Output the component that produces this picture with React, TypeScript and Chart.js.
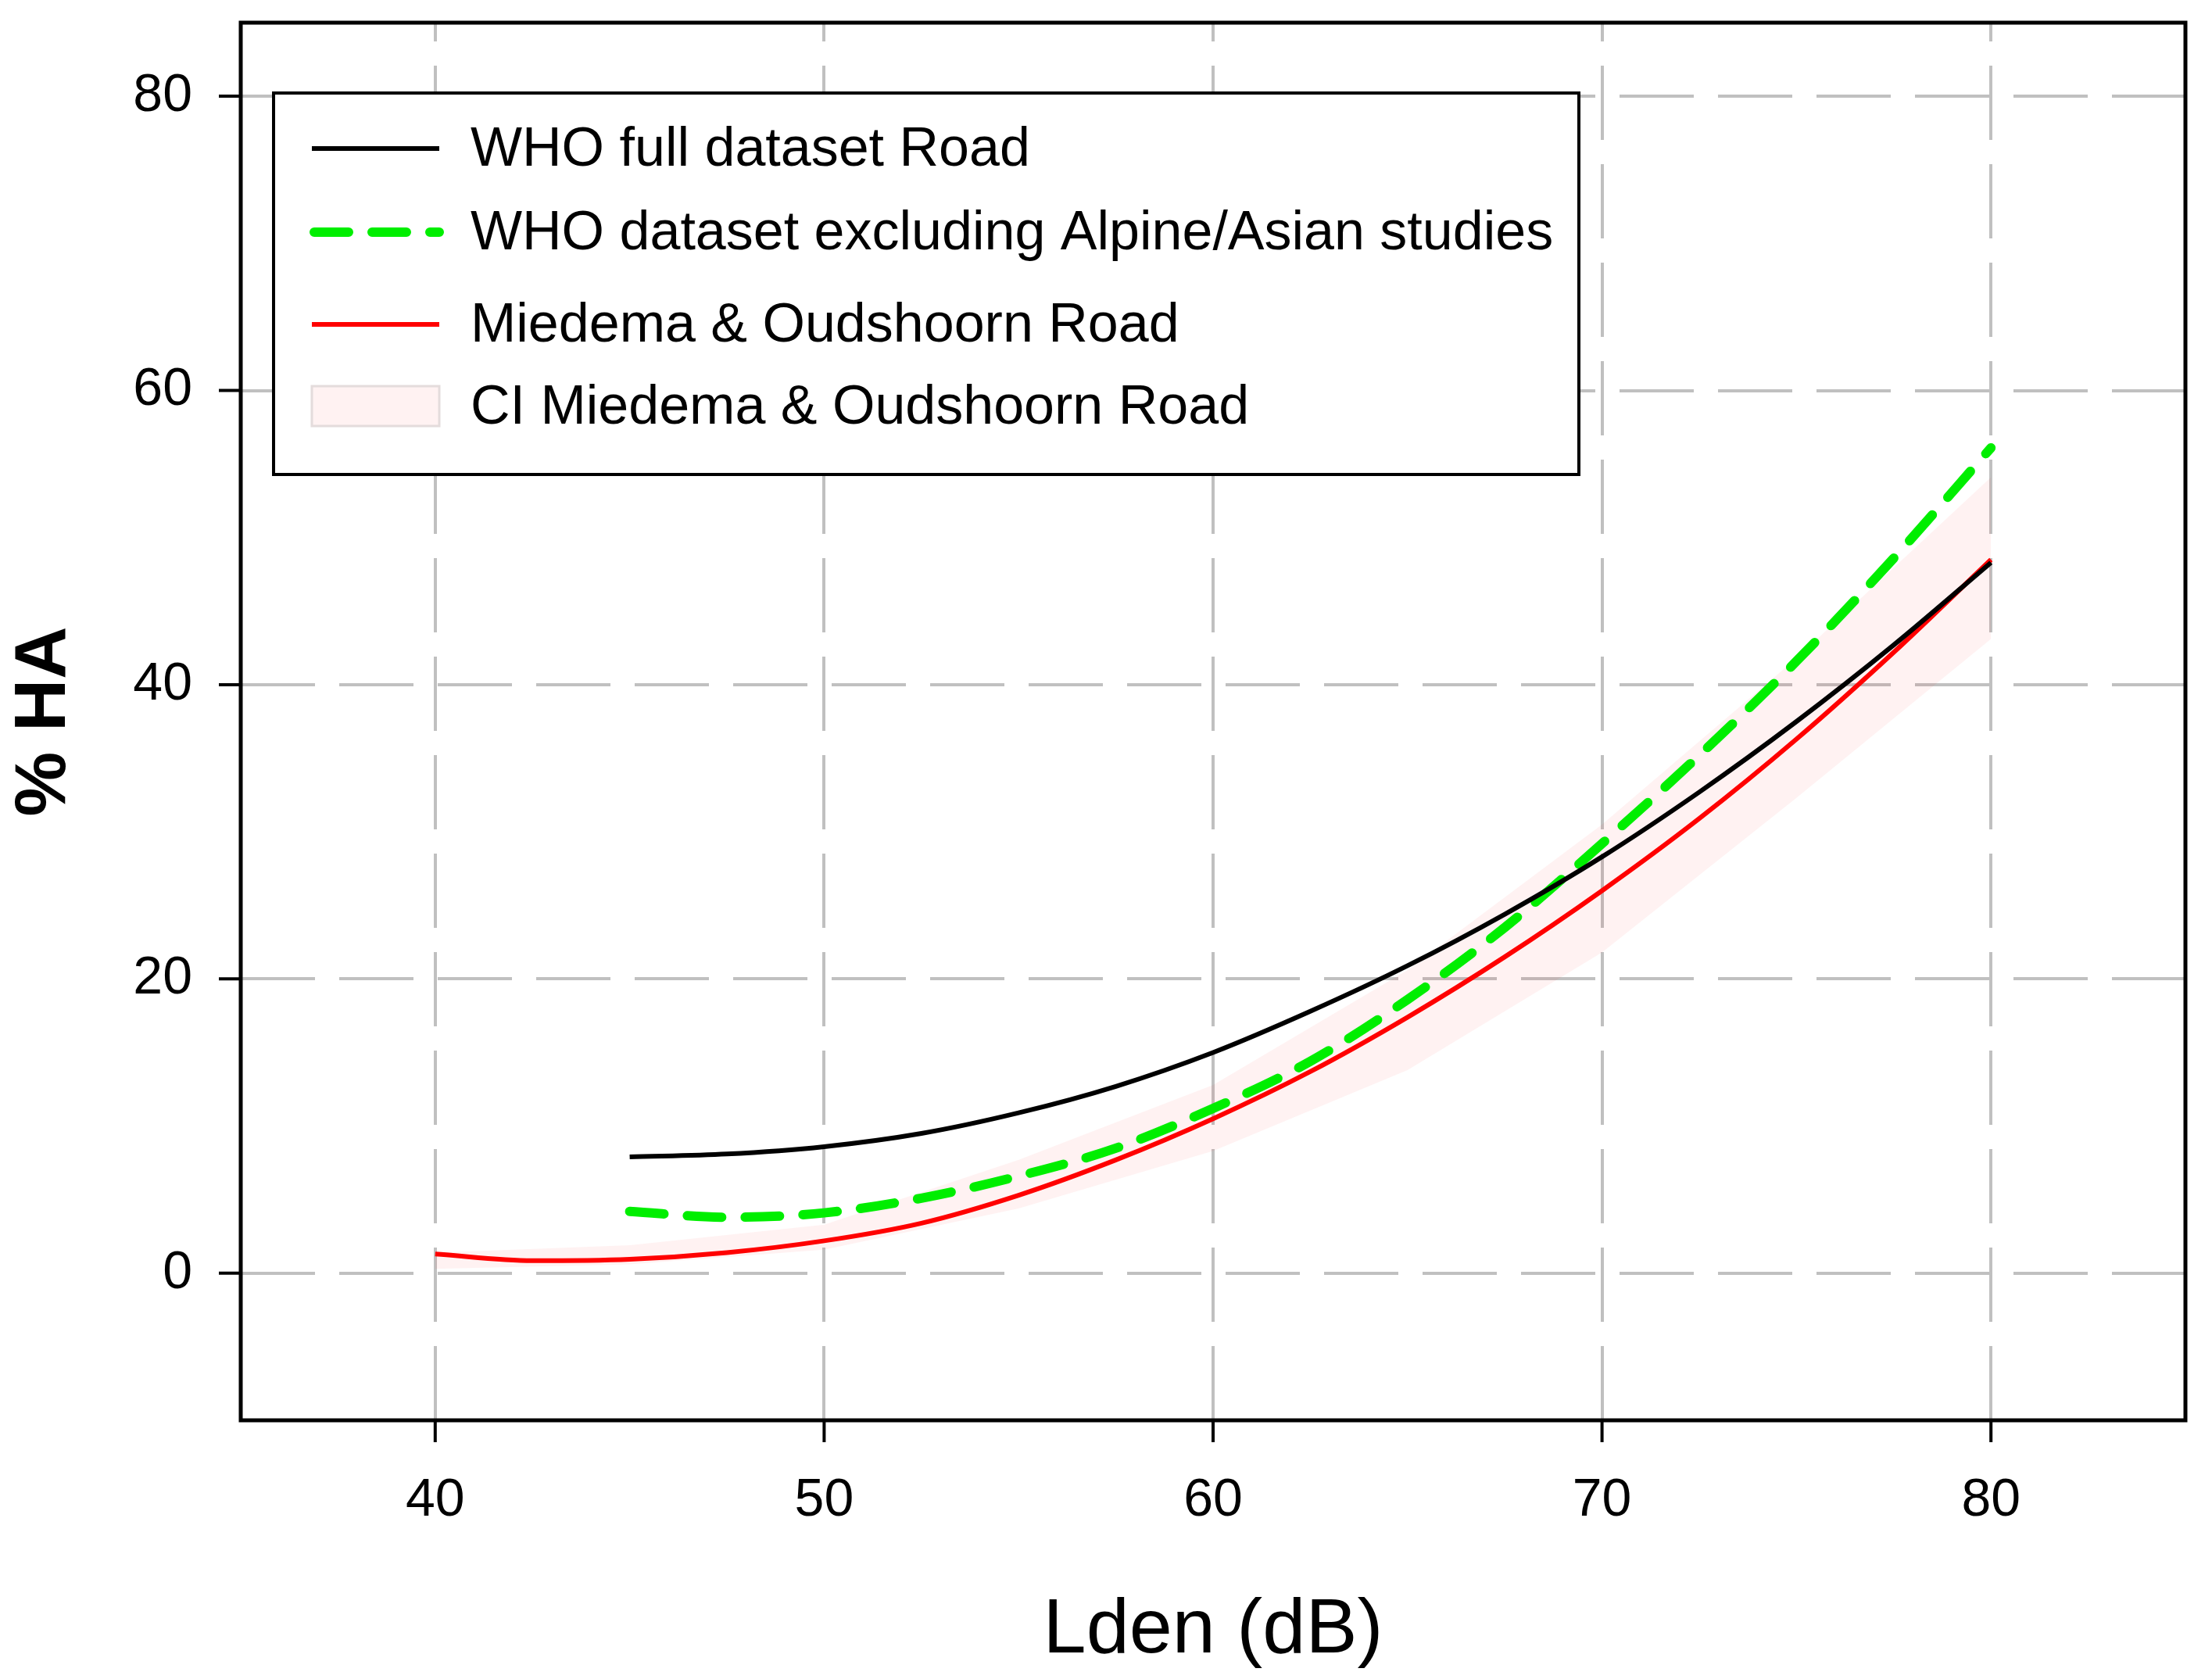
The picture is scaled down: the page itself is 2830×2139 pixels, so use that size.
import React, { useEffect, useRef } from 'react';
import { Chart, registerables } from 'chart.js';

Chart.register(...registerables);

const ldenMiedema = [40, 42.5, 45, 47.5, 50, 52.5, 55, 57.5, 60, 62.5, 65, 67.5, 70, 72.5, 75, 77.5, 80];
const ldenWho = [45, 47.5, 50, 52.5, 55, 57.5, 60, 62.5, 65, 67.5, 70, 72.5, 75, 77.5, 80];
const ldenCi = [40, 45, 50, 55, 60, 65, 70, 75, 80];

// % highly annoyed
const whoFullRoad = [7.9, 8.1, 8.6, 9.5, 10.9, 12.7, 15.0, 17.8, 20.9, 24.4, 28.3, 32.7, 37.5, 42.7, 48.3];
const whoExclAlpineAsian = [4.2, 3.8, 4.1, 5.1, 6.6, 8.5, 11.2, 14.4, 18.6, 23.5, 29.2, 35.2, 41.6, 48.6, 56.1];
const miedemaRoad = [1.3, 0.85, 0.95, 1.4, 2.2, 3.4, 5.3, 7.7, 10.5, 13.7, 17.4, 21.5, 26.0, 30.9, 36.3, 42.2, 48.5];
const ciUpper = [1.4, 1.9, 3.3, 7.7, 12.8, 20.6, 30.5, 41.8, 54.1];
const ciLower = [0.3, 0.6, 1.6, 4.4, 8.3, 13.8, 21.8, 32.3, 43.1];

const xTicks = [40, 50, 60, 70, 80];
const yTicks = [0, 20, 40, 60, 80];

const FONT = "'Liberation Sans', Arial, sans-serif";

const pts = (xs: number[], ys: number[]) => xs.map((x, i) => ({ x, y: ys[i] }));

// frame round the plot area plus outward tick marks
const frameTicks = {
  id: 'frameTicks',
  afterDraw(chart: any) {
    const { ctx, chartArea: a, scales } = chart;
    ctx.save();
    ctx.strokeStyle = '#000';
    ctx.lineWidth = 5;
    ctx.strokeRect(a.left, a.top, a.right - a.left, a.bottom - a.top);
    ctx.lineWidth = 4;
    ctx.beginPath();
    xTicks.forEach((v) => {
      const px = scales.x.getPixelForValue(v);
      ctx.moveTo(px, a.bottom);
      ctx.lineTo(px, a.bottom + 28);
    });
    yTicks.forEach((v) => {
      const py = scales.y.getPixelForValue(v);
      ctx.moveTo(a.left, py);
      ctx.lineTo(a.left - 28, py);
    });
    ctx.stroke();
    ctx.restore();
  },
};

// boxed legend in the upper left of the plot
const boxLegend = {
  id: 'boxLegend',
  afterDraw(chart: any) {
    const { ctx, chartArea: a } = chart;
    const left = a.left + 42;
    const top = a.top + 90;
    const right = a.left + 1712;
    const bottom = a.top + 578;
    const rows = [71, 178, 296, 401];
    const sx0 = left + 49;
    const sx1 = left + 212;

    ctx.save();
    ctx.fillStyle = '#fff';
    ctx.fillRect(left, top, right - left, bottom - top);
    ctx.strokeStyle = '#000';
    ctx.lineWidth = 4;
    ctx.strokeRect(left, top, right - left, bottom - top);

    const items = chart.data.datasets.filter((d: any) => d.label);
    items.forEach((d: any, i: number) => {
      const y = top + rows[i];
      if (d.fill) {
        ctx.fillStyle = d.backgroundColor;
        ctx.fillRect(sx0, y - 26, sx1 - sx0, 51);
        ctx.strokeStyle = '#e4dcdc';
        ctx.lineWidth = 3;
        ctx.strokeRect(sx0, y - 26, sx1 - sx0, 51);
      } else {
        ctx.strokeStyle = d.borderColor;
        ctx.lineWidth = d.borderWidth;
        ctx.setLineDash(d.borderDash || []);
        ctx.lineCap = d.borderCapStyle || 'butt';
        ctx.beginPath();
        ctx.moveTo(d.borderDash ? sx0 + 3 : sx0, y);
        ctx.lineTo(sx1, y);
        ctx.stroke();
        ctx.setLineDash([]);
        ctx.lineCap = 'butt';
      }
      ctx.fillStyle = '#000';
      ctx.font = `70px ${FONT}`;
      ctx.textAlign = 'left';
      ctx.textBaseline = 'middle';
      ctx.fillText(d.label, left + 252, y + 3);
    });
    ctx.restore();
  },
};

// fixed axis sizes, and no extra label overhang padding
const fixSize = (w?: number, h?: number) => (s: any) => {
  if (w !== undefined) s.width = w;
  if (h !== undefined) s.height = h;
  s.paddingTop = 0;
  s.paddingBottom = 0;
  s.paddingLeft = 0;
  s.paddingRight = 0;
};

export default function App() {
  const canvasRef = useRef<HTMLCanvasElement>(null);

  useEffect(() => {
    if (!canvasRef.current) return;
    const chart = new Chart(canvasRef.current, {
      type: 'line',
      data: {
        datasets: [
          {
            label: 'WHO full dataset Road',
            data: pts(ldenWho, whoFullRoad),
            borderColor: '#000000',
            borderWidth: 6,
            pointRadius: 0,
            cubicInterpolationMode: 'monotone',
            fill: false,
          },
          {
            label: 'WHO dataset excluding Alpine/Asian studies',
            data: pts(ldenWho, whoExclAlpineAsian),
            borderColor: '#00ee00',
            borderWidth: 12,
            borderDash: [44, 30],
            borderCapStyle: 'round',
            borderJoinStyle: 'round',
            pointRadius: 0,
            cubicInterpolationMode: 'monotone',
            fill: false,
          },
          {
            label: 'Miedema & Oudshoorn Road',
            data: pts(ldenMiedema, miedemaRoad),
            borderColor: '#ff0000',
            borderWidth: 6,
            pointRadius: 0,
            cubicInterpolationMode: 'monotone',
            fill: false,
          },
          {
            label: 'CI Miedema & Oudshoorn Road',
            data: pts(ldenCi, ciUpper),
            borderColor: 'transparent',
            backgroundColor: 'rgba(255, 0, 0, 0.05)',
            pointRadius: 0,
            tension: 0,
            fill: '+1',
          },
          {
            label: '',
            data: pts(ldenCi, ciLower),
            borderColor: 'transparent',
            pointRadius: 0,
            tension: 0,
            fill: false,
          },
        ],
      } as any,
      options: {
        animation: false,
        responsive: false,
        devicePixelRatio: 1,
        layout: { padding: { top: 29, right: 34, left: 0, bottom: 0 } },
        plugins: {
          legend: { display: false },
          tooltip: { enabled: false },
          filler: { drawTime: 'beforeDatasetsDraw', propagate: false },
        } as any,
        scales: {
          x: {
            type: 'linear',
            min: 35,
            max: 85,
            afterBuildTicks: (s: any) => {
              s.ticks = xTicks.map((v) => ({ value: v }));
            },
            afterFit: fixSize(undefined, 322),
            grid: { color: '#c0c0c0', lineWidth: 4, drawTicks: false },
            border: { display: false, dash: [95, 31], dashOffset: 71 },
            ticks: { padding: 62, color: '#000', maxRotation: 0, font: { family: FONT, size: 68 } },
            title: {
              display: true,
              text: 'Lden (dB)',
              color: '#000',
              font: { family: FONT, size: 99, lineHeight: 1 },
              padding: { top: 0, bottom: 3 },
            },
          },
          y: {
            type: 'linear',
            min: -10,
            max: 85,
            afterBuildTicks: (s: any) => {
              s.ticks = yTicks.map((v) => ({ value: v }));
            },
            afterFit: fixSize(308, undefined),
            grid: { color: '#c0c0c0', lineWidth: 4, drawTicks: false },
            border: { display: false, dash: [95, 31], dashOffset: 0 },
            ticks: { padding: 62, color: '#000', font: { family: FONT, size: 68 } },
            title: {
              display: true,
              text: '% HA',
              color: '#000',
              font: { family: FONT, size: 93, weight: 'bold', lineHeight: 1 },
              padding: { top: 11, bottom: 0 },
            },
          },
        },
      } as any,
      plugins: [frameTicks, boxLegend],
    });

    return () => chart.destroy();
  }, []);

  return (
    <div style={{ position: 'absolute', left: 0, top: 0, width: 2830, height: 2139, background: '#fff' }}>
      <canvas ref={canvasRef} width={2830} height={2139} style={{ display: 'block' }} />
    </div>
  );
}
